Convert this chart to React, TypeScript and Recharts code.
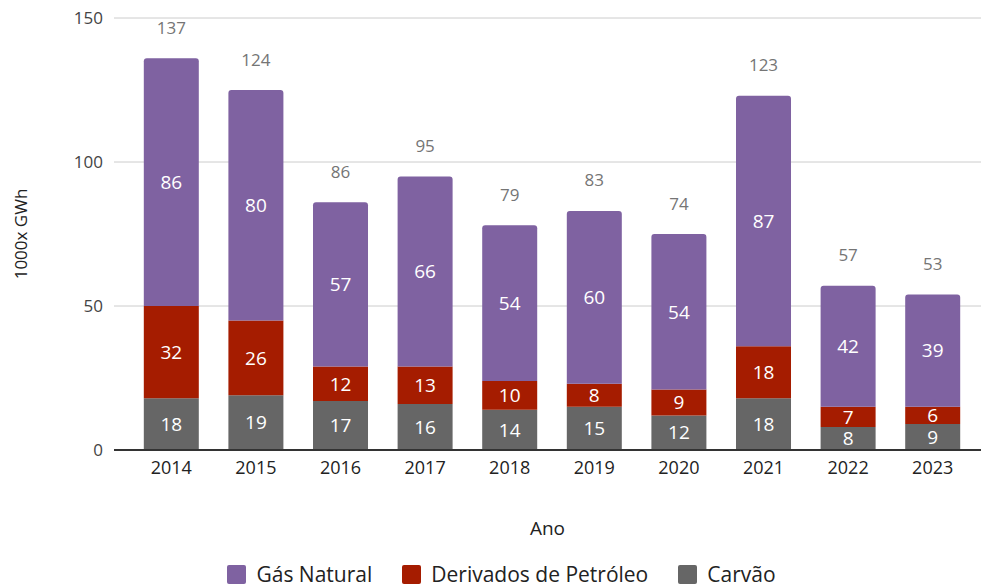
import React from 'react';
import { BarChart, Bar, XAxis, YAxis, CartesianGrid, LabelList, Label } from 'recharts';

const years = ['2014', '2015', '2016', '2017', '2018', '2019', '2020', '2021', '2022', '2023'];
const carvao = [18, 19, 17, 16, 14, 15, 12, 18, 8, 9];
const derivados = [32, 26, 12, 13, 10, 8, 9, 18, 7, 6];
const gasNatural = [86, 80, 57, 66, 54, 60, 54, 87, 42, 39];
const totals = [137, 124, 86, 95, 79, 83, 74, 123, 57, 53];
const yTicks = [0, 50, 100, 150];

const COLORS = { gas: '#7f62a1', der: '#a51c00', carv: '#666666' };
const FONT = '"Open Sans", sans-serif';

const data = years.map((year, i) => ({
    year,
    carvao: carvao[i],
    derivados: derivados[i],
    gas: gasNatural[i],
    total: totals[i],
}));

const legendItems = [
    { name: 'Gás Natural', color: COLORS.gas },
    { name: 'Derivados de Petróleo', color: COLORS.der },
    { name: 'Carvão', color: COLORS.carv },
];

const TotalLabel = (props: any) => {
    const { x, y, width, index } = props;
    return (
        <text x={x + width / 2} y={y - 31} textAnchor="middle" dominantBaseline="central"
            fill="#757575" fontSize={17} fontFamily={FONT}>
            {totals[index]}
        </text>
    );
};

const innerLabelStyle = { fill: '#ffffff', fontSize: 19, fontFamily: FONT };

export default function App() {
    return (
        <div style={{ position: 'absolute', left: 0, top: 0, width: 981, height: 587, background: '#fff', fontFamily: FONT }}>
            <BarChart width={981} height={587} data={data}
                margin={{ top: 18, right: 0, bottom: 47, left: 0 }} barCategoryGap="17.5%">
                <CartesianGrid vertical={false} stroke="#cccccc" />
                <XAxis dataKey="year" height={90} axisLine={{ stroke: '#333333', strokeWidth: 2 }} tickLine={false}
                    tickMargin={5} padding={{ left: 15, right: 6 }}
                    tick={{ fill: '#222222', fontSize: 18, fontFamily: FONT }}>
                    <Label value="Ano" position="insideBottom" offset={5}
                        style={{ fill: '#222222', fontSize: 19, fontFamily: FONT }} />
                </XAxis>
                <YAxis width={114} domain={[0, 150]} ticks={yTicks} axisLine={false} tickLine={false}
                    tickMargin={5} tick={{ fill: '#444444', fontSize: 17, fontFamily: FONT }}>
                    <Label content={(p: any) => {
                        const vb = p.viewBox;
                        const cy = vb.y + vb.height / 2;
                        return (
                            <text x={20} y={cy} transform={`rotate(-90, 20, ${cy})`} textAnchor="middle"
                                dominantBaseline="central" fill="#222222" fontSize={17} fontFamily={FONT}>
                                1000x GWh
                            </text>
                        );
                    }} />
                </YAxis>
                <Bar dataKey="carvao" stackId="a" fill={COLORS.carv} isAnimationActive={false}>
                    <LabelList dataKey="carvao" position="center" style={innerLabelStyle} />
                </Bar>
                <Bar dataKey="derivados" stackId="a" fill={COLORS.der} isAnimationActive={false}>
                    <LabelList dataKey="derivados" position="center" style={innerLabelStyle} />
                </Bar>
                <Bar dataKey="gas" stackId="a" fill={COLORS.gas} radius={[3, 3, 0, 0]} isAnimationActive={false}>
                    <LabelList dataKey="gas" position="center" style={innerLabelStyle} />
                    <LabelList dataKey="total" content={TotalLabel} />
                </Bar>
            </BarChart>
            <div style={{ position: 'absolute', top: 562, left: 0, width: 981, display: 'flex', justifyContent: 'center', paddingLeft: 22, boxSizing: 'border-box' }}>
                {legendItems.map((item) => (
                    <div key={item.name} style={{ display: 'flex', alignItems: 'center', margin: '0 15px' }}>
                        <span style={{ width: 19, height: 19, borderRadius: 2, background: item.color, display: 'inline-block', marginRight: 10 }} />
                        <span style={{ fontSize: 21, color: '#222222', lineHeight: '24px' }}>{item.name}</span>
                    </div>
                ))}
            </div>
        </div>
    );
}
